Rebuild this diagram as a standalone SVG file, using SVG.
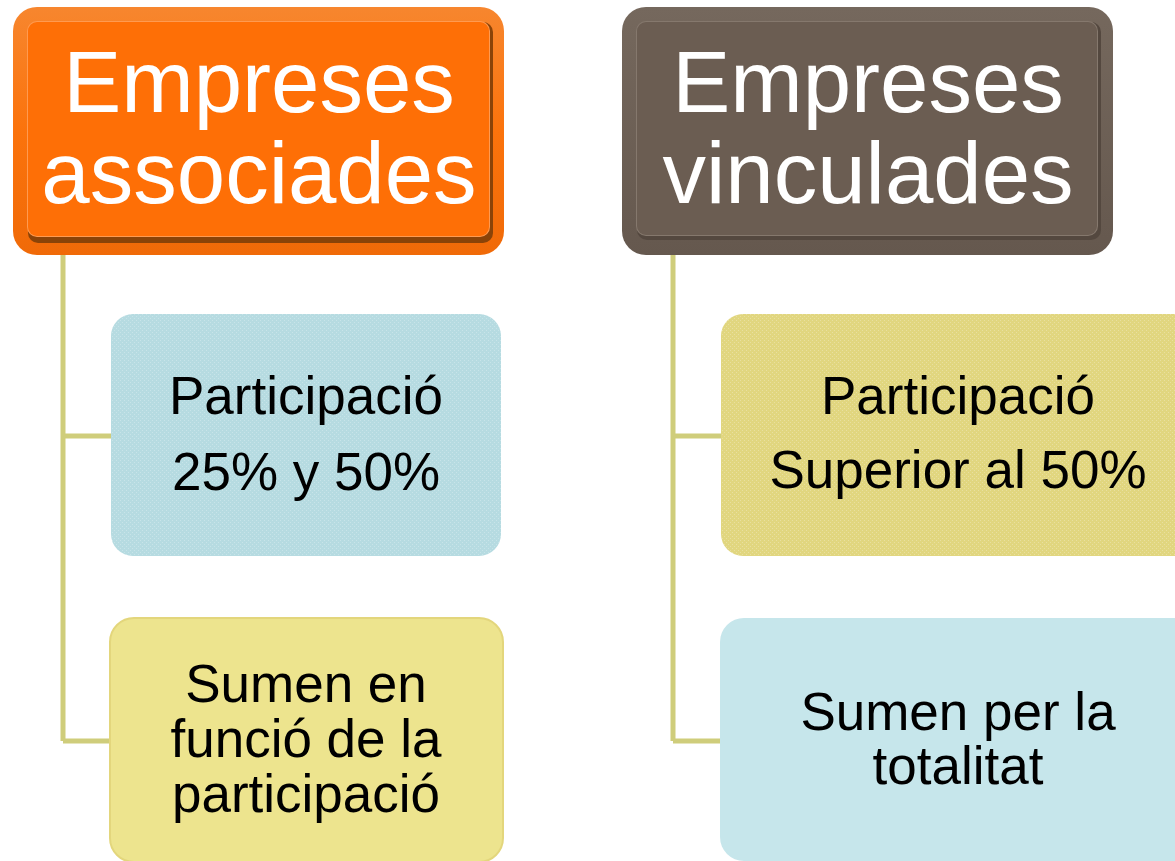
<svg xmlns="http://www.w3.org/2000/svg" width="1175" height="861" viewBox="0 0 1175 861">
<defs>
<style>
.hd{font-family:"Liberation Sans",Arial,sans-serif;font-size:87px;fill:#ffffff;text-anchor:middle}
.bt{font-family:"Liberation Sans",Arial,sans-serif;font-size:53px;fill:#000000;text-anchor:middle}
.conn{stroke:#cfcd7b;stroke-width:5;fill:none;stroke-linejoin:miter}
</style>
<linearGradient id="gOr" x1="0" y1="0" x2="0" y2="1">
<stop offset="0" stop-color="#f7862e"/>
<stop offset="0.5" stop-color="#fb730c"/>
<stop offset="1" stop-color="#f06a08"/>
</linearGradient>
<linearGradient id="gBr" x1="0" y1="0" x2="0" y2="1">
<stop offset="0" stop-color="#75685d"/>
<stop offset="1" stop-color="#65584e"/>
</linearGradient>
<pattern id="dots" width="4" height="4" patternUnits="userSpaceOnUse">
<rect x="0" y="0" width="1" height="1" fill="#ffffff" fill-opacity="0.25"/>
<rect x="2" y="2" width="1" height="1" fill="#ffffff" fill-opacity="0.25"/>
</pattern>
</defs>
<rect width="1175" height="861" fill="#ffffff"/>

<g id="connectors">
<path class="conn" d="M63,255 V741 M63,436 H112 M63,741 H110"/>
<path class="conn" d="M673,255 V741 M673,436 H722 M673,741 H721"/>
</g>

<g id="node-associades">
<rect x="13" y="7" width="491" height="248" rx="24" fill="url(#gOr)"/>
<rect x="28" y="22" width="465" height="221" rx="10" fill="#8a4308"/>
<rect x="27" y="21" width="463" height="216" rx="10" fill="#ff9a50"/>
<rect x="28" y="22" width="461" height="214" rx="9" fill="#fe6f06"/>
<text class="hd" x="259" y="112">Empreses</text>
<text class="hd" x="259" y="203">associades</text>
</g>

<g id="node-vinculades">
<rect x="622" y="7" width="491" height="248" rx="24" fill="url(#gBr)"/>
<rect x="637" y="22" width="464" height="218" rx="10" fill="#54483f"/>
<rect x="636" y="21" width="462" height="215" rx="10" fill="#85786d"/>
<rect x="637" y="22" width="460" height="213" rx="9" fill="#6b5d52"/>
<text class="hd" x="868" y="112">Empreses</text>
<text class="hd" x="868" y="203">vinculades</text>
</g>

<g id="node-part-25-50">
<rect x="111" y="314" width="390" height="242" rx="22" fill="#b6dbe1"/>
<rect x="111" y="314" width="390" height="242" rx="22" fill="url(#dots)"/>
<text class="bt" x="306" y="414">Participació</text>
<text class="bt" x="306" y="490">25% y 50%</text>
</g>

<g id="node-sumen-funcio">
<rect x="110" y="618" width="393" height="244" rx="24" fill="#ede48e" stroke="#e3d67c" stroke-width="2"/>
<text class="bt" x="306" y="702">Sumen en</text>
<text class="bt" x="306" y="757">funció de la</text>
<text class="bt" x="306" y="812">participació</text>
</g>

<g id="node-part-superior">
<rect x="721" y="314" width="480" height="242" rx="22" fill="#e1d67f"/>
<rect x="721" y="314" width="480" height="242" rx="22" fill="url(#dots)"/>
<text class="bt" x="958" y="414">Participació</text>
<text class="bt" x="958" y="488">Superior al 50%</text>
</g>

<g id="node-sumen-totalitat">
<rect x="720" y="618" width="480" height="243" rx="24" fill="#c6e6eb"/>
<text class="bt" x="958" y="730">Sumen per la</text>
<text class="bt" x="958" y="784">totalitat</text>
</g>
</svg>
